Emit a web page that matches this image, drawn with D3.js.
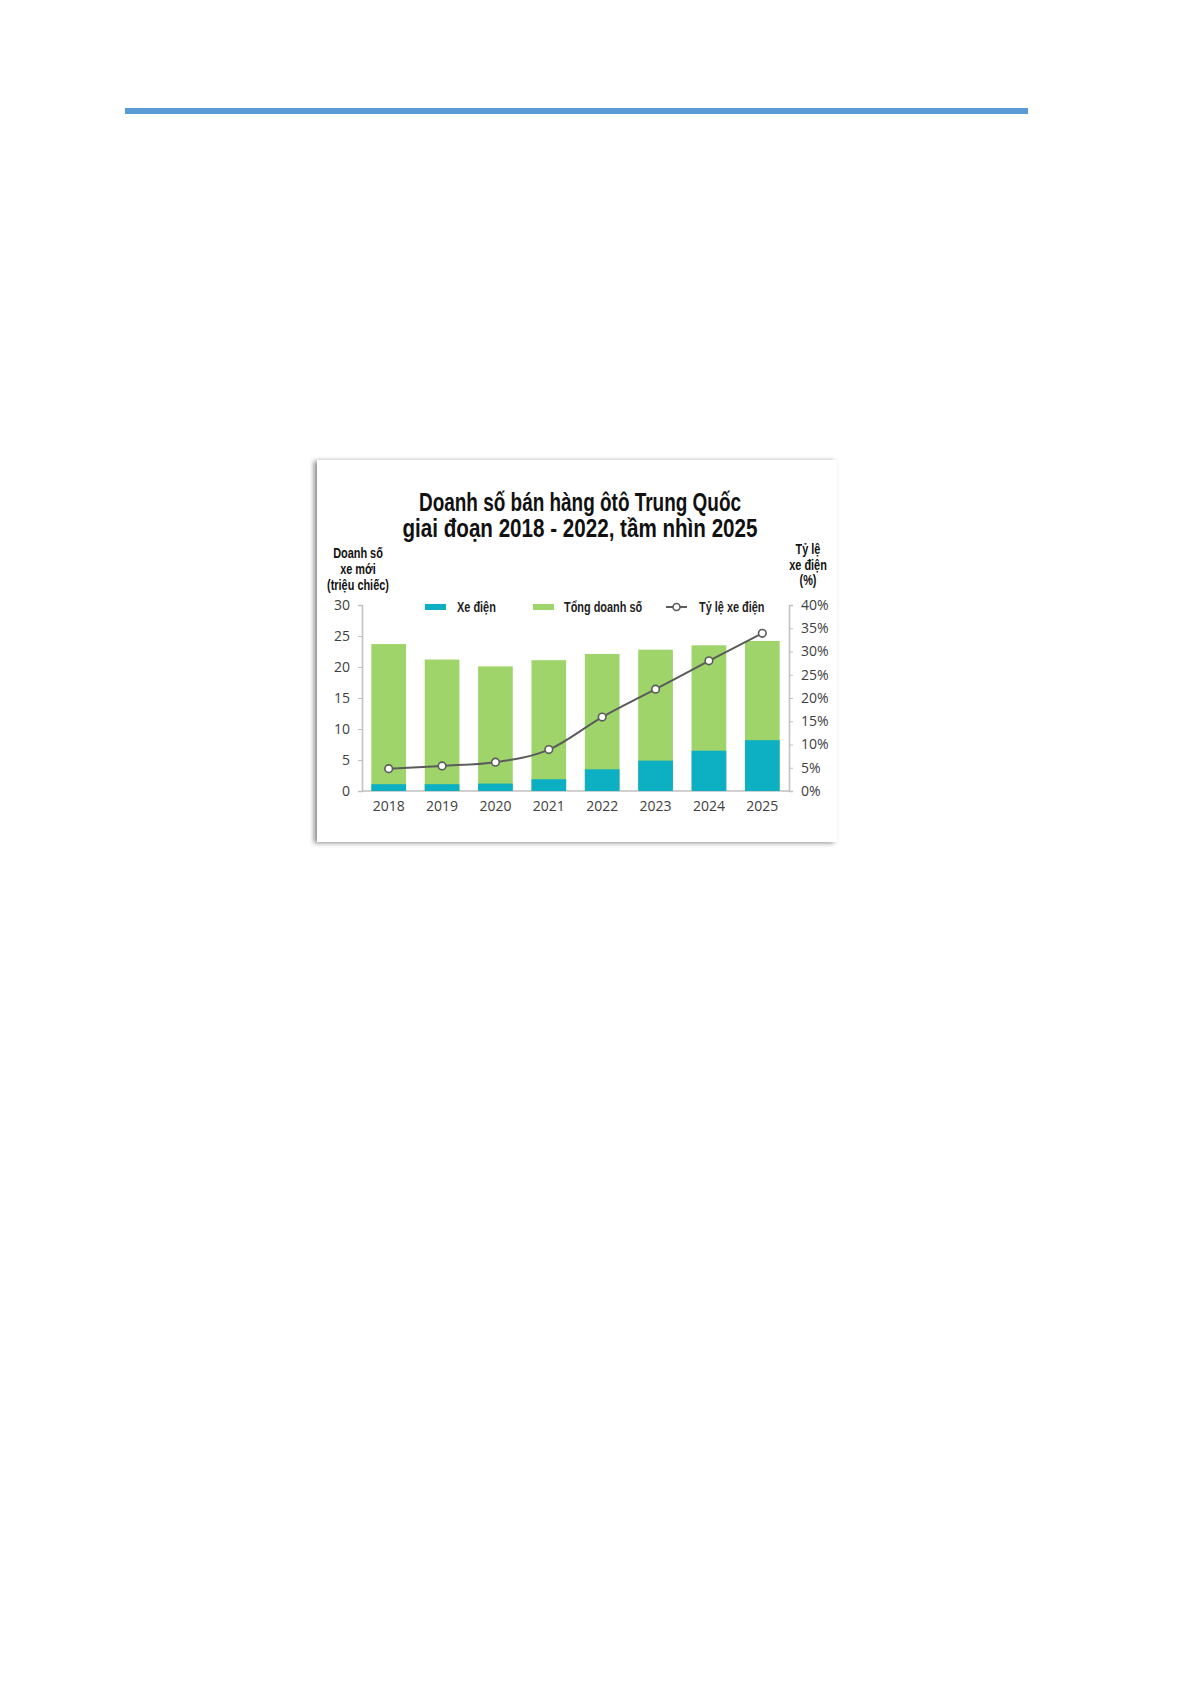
<!DOCTYPE html>
<html>
<head>
<meta charset="utf-8">
<script src="https://cdn.jsdelivr.net/npm/d3@7"></script>
<style>
  body { margin: 0; background: #fff; }
</style>
</head>
<body>
<div id="page"></div>
<script>
// data
var years = ["2018", "2019", "2020", "2021", "2022", "2023", "2024", "2025"];
var totalSales = [23.7, 21.2, 20.1, 21.1, 22.1, 22.8, 23.5, 24.2];
var evSales = [1.1, 1.1, 1.2, 1.9, 3.5, 4.9, 6.5, 8.2];
var evShare = [4.8, 5.4, 6.2, 8.9, 15.9, 21.9, 28.0, 33.9];
var leftTicks = [0, 5, 10, 15, 20, 25, 30];
var rightTicks = [0, 5, 10, 15, 20, 25, 30, 35, 40];

var titleLines = ["Doanh số bán hàng ôtô Trung Quốc", "giai đoạn 2018 - 2022, tầm nhìn 2025"];
var leftTitle = ["Doanh số", "xe mới", "(triệu chiếc)"];
var rightTitle = ["Tỷ lệ", "xe điện", "(%)"];

var teal = "#0db0c2", green = "#9fd46b", lineCol = "#5b5b5b";
var condensed = "'Liberation Sans', 'DejaVu Sans', sans-serif";
var tickFont = "'Open Sans', 'Liberation Sans', sans-serif";

var svg = d3.select("#page").append("svg")
    .attr("width", 1192)
    .attr("height", 1685);

// blue rule at the top of the page
svg.append("rect")
    .attr("x", 125).attr("y", 108)
    .attr("width", 903).attr("height", 6)
    .style("fill", "#5b9bd5");

// picture frame with a soft shadow
var defs = svg.append("defs");
var f = defs.append("filter").attr("id", "shadow")
    .attr("x", "-5%").attr("y", "-5%").attr("width", "110%").attr("height", "110%");
f.append("feDropShadow")
    .attr("dx", -3).attr("dy", 1).attr("stdDeviation", 2.5)
    .attr("flood-color", "#000").attr("flood-opacity", 0.45);

svg.append("rect")
    .attr("x", 317).attr("y", 460)
    .attr("width", 520).attr("height", 382)
    .style("fill", "#fff")
    .attr("filter", "url(#shadow)");

// narrow bold text, squeezed sideways since no condensed face is installed
function narrow(parent, t, px, py, size, anchor) {
  return parent.append("text")
    .attr("transform", "translate(" + px + "," + py + ") scale(0.78,1)")
    .attr("text-anchor", anchor || "start")
    .style("font-family", condensed)
    .style("font-weight", "bold")
    .style("font-size", size + "px")
    .style("fill", "#111")
    .text(t);
}

// title
titleLines.forEach(function (t, i) {
  svg.append("text")
    .attr("x", 580).attr("y", 511 + i * 26)
    .attr("text-anchor", "middle")
    .attr("textLength", i == 0 ? 322 : 355)
    .attr("lengthAdjust", "spacingAndGlyphs")
    .style("font-family", condensed)
    .style("font-weight", "bold")
    .style("font-size", "25px")
    .style("fill", "#111")
    .text(t);
});

// scales
var x = d3.scaleBand()
    .domain(years)
    .range([362, 789])
    .paddingInner(0.35)
    .paddingOuter(0.175);

var y = d3.scaleLinear().domain([0, 30]).range([791, 605]);
var y2 = d3.scaleLinear().domain([0, 40]).range([791, 605]);

// axes
var axisL = svg.append("g")
    .attr("transform", "translate(362,0)")
    .call(d3.axisLeft(y).tickValues(leftTicks).tickSize(4).tickPadding(8));
var axisR = svg.append("g")
    .attr("transform", "translate(789,0)")
    .call(d3.axisRight(y2).tickValues(rightTicks).tickSize(4).tickPadding(8)
      .tickFormat(function (d) { return d + "%"; }));
var axisB = svg.append("g")
    .attr("transform", "translate(0,791)")
    .call(d3.axisBottom(x).tickSize(0).tickPadding(10));

[axisL, axisR, axisB].forEach(function (a) {
  a.select(".domain").style("stroke", "#c0c0c0").style("stroke-width", 1.5);
  a.selectAll(".tick line").style("stroke", "#c0c0c0");
  a.selectAll("text")
    .style("font-family", tickFont)
    .style("font-size", "14px")
    .style("fill", "#404040");
});
axisB.select(".domain").attr("d", "M362,0H789");

// bars: total in green, electric part in teal at the bottom
var rows = years.map(function (yr, i) {
  return {year: yr, total: totalSales[i], ev: evSales[i], share: evShare[i]};
});

svg.selectAll(".total")
  .data(rows)
  .enter()
  .append("rect")
    .attr("class", "total")
    .attr("x", function (d) { return x(d.year); })
    .attr("y", function (d) { return y(d.total); })
    .attr("width", x.bandwidth())
    .attr("height", function (d) { return y(0) - y(d.total); })
    .style("fill", green);

svg.selectAll(".ev")
  .data(rows)
  .enter()
  .append("rect")
    .attr("class", "ev")
    .attr("x", function (d) { return x(d.year); })
    .attr("y", function (d) { return y(d.ev); })
    .attr("width", x.bandwidth())
    .attr("height", function (d) { return y(0) - y(d.ev); })
    .style("fill", teal);

// share line
var line = d3.line()
    .x(function (d) { return x(d.year) + x.bandwidth() / 2; })
    .y(function (d) { return y2(d.share); })
    .curve(d3.curveMonotoneX);

svg.append("path")
    .datum(rows)
    .attr("d", line)
    .style("fill", "none")
    .style("stroke", lineCol)
    .style("stroke-width", 2);

svg.selectAll(".dot")
  .data(rows)
  .enter()
  .append("circle")
    .attr("cx", function (d) { return x(d.year) + x.bandwidth() / 2; })
    .attr("cy", function (d) { return y2(d.share); })
    .attr("r", 3.8)
    .style("fill", "#fff")
    .style("stroke", lineCol)
    .style("stroke-width", 1.6);

// axis titles
leftTitle.forEach(function (t, i) { narrow(svg, t, 358, 558 + i * 16, 14, "middle"); });
rightTitle.forEach(function (t, i) { narrow(svg, t, 808, 554 + i * 15.5, 14, "middle"); });

// legend
var leg = svg.append("g").attr("transform", "translate(0,607)");
leg.append("rect").attr("x", 425).attr("y", -3).attr("width", 21).attr("height", 6).style("fill", teal);
leg.append("rect").attr("x", 533).attr("y", -3).attr("width", 21).attr("height", 6).style("fill", green);
leg.append("line").attr("x1", 666).attr("x2", 687).attr("y1", 0).attr("y2", 0)
    .style("stroke", lineCol).style("stroke-width", 2);
leg.append("circle").attr("cx", 676.5).attr("cy", 0).attr("r", 3.5)
    .style("fill", "#fff").style("stroke", lineCol).style("stroke-width", 1.6);

[["Xe điện", 457], ["Tổng doanh số", 564], ["Tỷ lệ xe điện", 699]].forEach(function (l) {
  narrow(leg, l[0], l[1], 5, 14).style("fill", "#222");
});
</script>
</body>
</html>
